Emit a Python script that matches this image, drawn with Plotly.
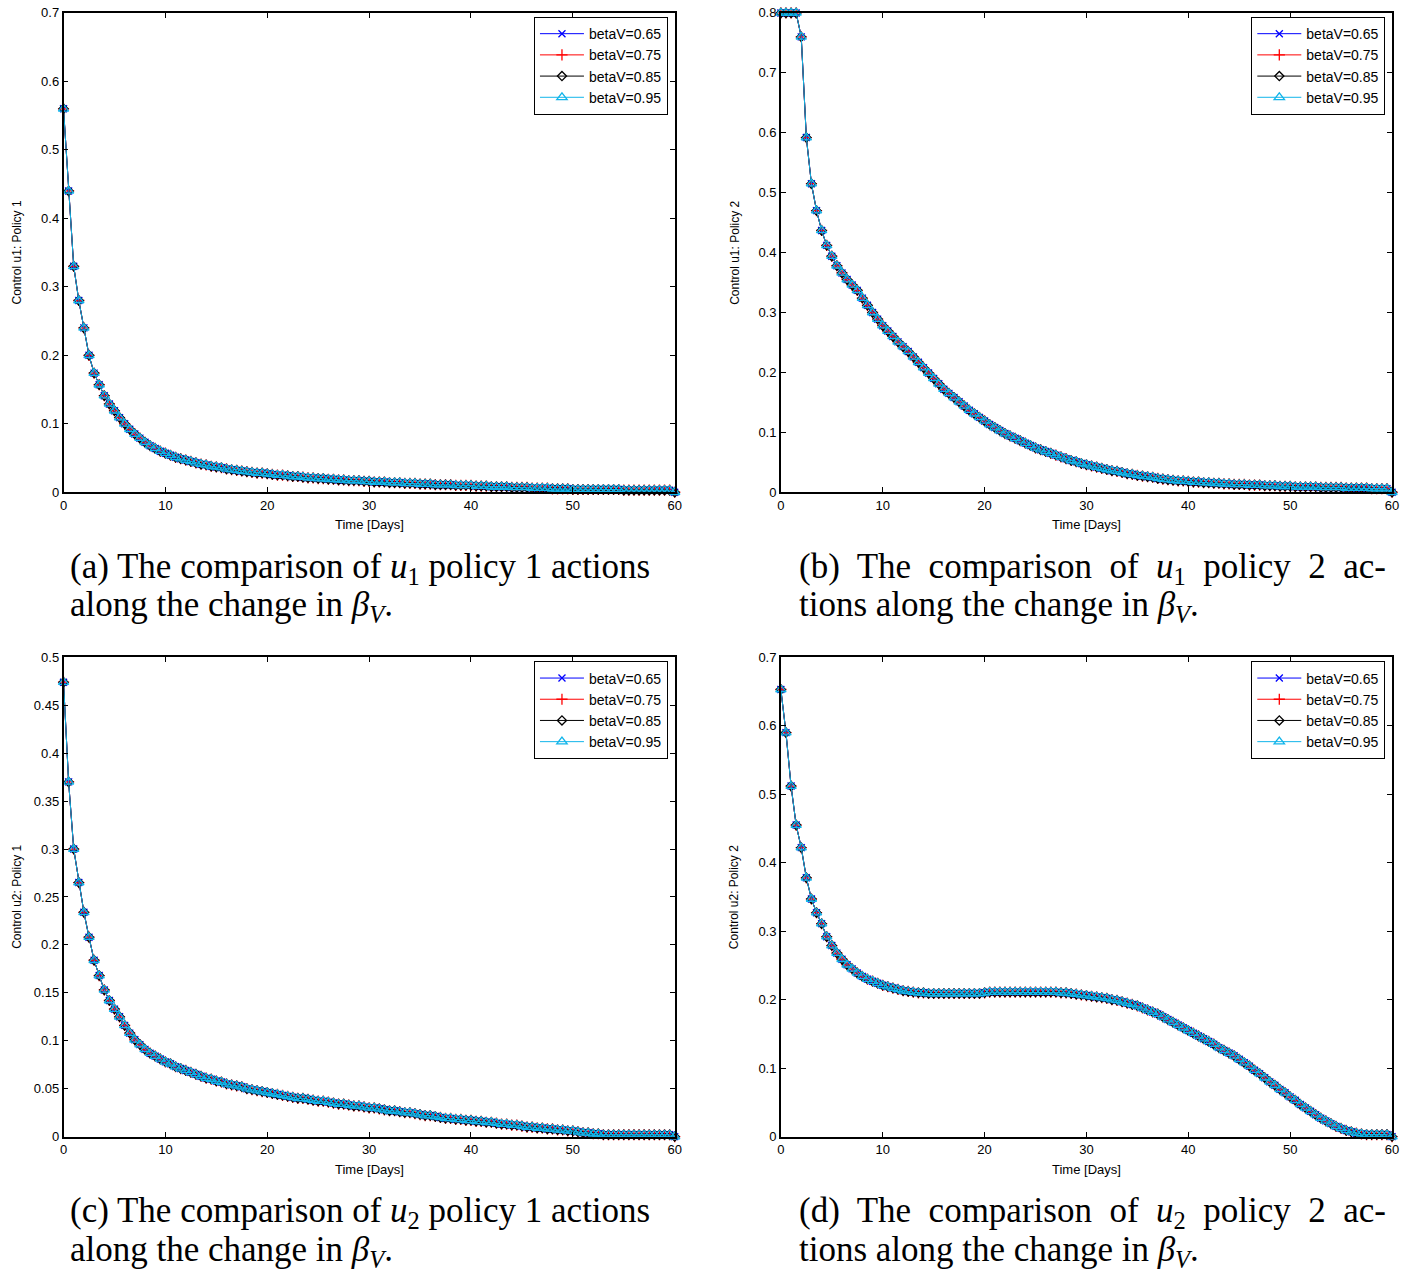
import plotly.graph_objects as go

W, H = 1406, 1281

# ---------------- data ----------------
time_days = [i * 0.5 for i in range(121)]  # 0, 0.5, ..., 60

beta_labels = ["betaV=0.65", "betaV=0.75", "betaV=0.85", "betaV=0.95"]

u1_policy1 = [
    0.560, 0.440, 0.330, 0.280, 0.240, 0.200, 0.174, 0.157, 0.141, 0.129,
    0.119, 0.109, 0.100, 0.092, 0.085, 0.079, 0.073, 0.068, 0.064, 0.060,
    0.057, 0.054, 0.051, 0.049, 0.047, 0.045, 0.043, 0.041, 0.040, 0.038,
    0.037, 0.036, 0.034, 0.033, 0.032, 0.031, 0.030, 0.029, 0.028, 0.028,
    0.027, 0.026, 0.025, 0.025, 0.024, 0.023, 0.023, 0.022, 0.021, 0.021,
    0.020, 0.020, 0.019, 0.019, 0.018, 0.018, 0.017, 0.017, 0.017, 0.016,
    0.016, 0.015, 0.015, 0.015, 0.014, 0.014, 0.014, 0.013, 0.013, 0.013,
    0.012, 0.012, 0.012, 0.011, 0.011, 0.011, 0.011, 0.010, 0.010, 0.010,
    0.010, 0.009, 0.009, 0.009, 0.008, 0.008, 0.008, 0.008, 0.007, 0.007,
    0.007, 0.007, 0.006, 0.006, 0.006, 0.006, 0.005, 0.005, 0.005, 0.005,
    0.004, 0.004, 0.004, 0.004, 0.004, 0.004, 0.004, 0.004, 0.004, 0.004,
    0.003, 0.003, 0.003, 0.003, 0.003, 0.003, 0.003, 0.003, 0.003, 0.003,
    0.000,
]

u1_policy2 = [
    0.800, 0.800, 0.800, 0.800, 0.760, 0.592, 0.515, 0.470, 0.437, 0.412,
    0.394, 0.378, 0.366, 0.355, 0.346, 0.337, 0.324, 0.312, 0.300, 0.289,
    0.278, 0.269, 0.260, 0.251, 0.243, 0.235, 0.226, 0.217, 0.208, 0.199,
    0.190, 0.181, 0.172, 0.165, 0.158, 0.151, 0.144, 0.137, 0.131, 0.125,
    0.119, 0.113, 0.108, 0.103, 0.098, 0.094, 0.090, 0.086, 0.082, 0.078,
    0.074, 0.071, 0.068, 0.065, 0.062, 0.059, 0.056, 0.053, 0.051, 0.048,
    0.046, 0.044, 0.042, 0.040, 0.038, 0.036, 0.035, 0.033, 0.031, 0.030,
    0.028, 0.027, 0.026, 0.025, 0.023, 0.022, 0.021, 0.020, 0.019, 0.019,
    0.018, 0.017, 0.017, 0.016, 0.016, 0.015, 0.015, 0.014, 0.014, 0.013,
    0.013, 0.013, 0.012, 0.012, 0.012, 0.011, 0.011, 0.011, 0.010, 0.010,
    0.010, 0.009, 0.009, 0.009, 0.009, 0.009, 0.008, 0.008, 0.008, 0.008,
    0.008, 0.007, 0.007, 0.007, 0.007, 0.007, 0.006, 0.006, 0.006, 0.006,
    0.000,
]

u2_policy1 = [
    0.474, 0.370, 0.300, 0.265, 0.234, 0.208, 0.184, 0.168, 0.153, 0.142,
    0.133, 0.125, 0.116, 0.108, 0.101, 0.096, 0.091, 0.087, 0.084, 0.081,
    0.078, 0.076, 0.073, 0.071, 0.069, 0.067, 0.065, 0.063, 0.061, 0.060,
    0.058, 0.057, 0.055, 0.054, 0.053, 0.052, 0.050, 0.049, 0.048, 0.047,
    0.046, 0.045, 0.044, 0.043, 0.042, 0.041, 0.040, 0.040, 0.039, 0.038,
    0.037, 0.037, 0.036, 0.035, 0.034, 0.034, 0.033, 0.032, 0.032, 0.031,
    0.030, 0.030, 0.029, 0.028, 0.027, 0.027, 0.026, 0.025, 0.025, 0.024,
    0.023, 0.022, 0.022, 0.021, 0.020, 0.019, 0.019, 0.018, 0.018, 0.017,
    0.017, 0.016, 0.016, 0.015, 0.015, 0.014, 0.013, 0.013, 0.012, 0.012,
    0.011, 0.010, 0.010, 0.009, 0.009, 0.008, 0.008, 0.007, 0.007, 0.006,
    0.006, 0.005, 0.004, 0.004, 0.003, 0.003, 0.002, 0.002, 0.002, 0.002,
    0.002, 0.002, 0.002, 0.002, 0.002, 0.002, 0.002, 0.002, 0.002, 0.002,
    0.000,
]

u2_policy2 = [
    0.653, 0.590, 0.512, 0.455, 0.422, 0.378, 0.347, 0.327, 0.311, 0.292,
    0.279, 0.268, 0.259, 0.251, 0.245, 0.239, 0.234, 0.230, 0.227, 0.224,
    0.221, 0.219, 0.217, 0.215, 0.213, 0.212, 0.211, 0.210, 0.210, 0.209,
    0.209, 0.209, 0.209, 0.209, 0.209, 0.209, 0.209, 0.209, 0.209, 0.209,
    0.210, 0.211, 0.211, 0.211, 0.211, 0.211, 0.211, 0.211, 0.211, 0.211,
    0.211, 0.211, 0.211, 0.211, 0.211, 0.210, 0.210, 0.209, 0.208, 0.207,
    0.206, 0.205, 0.204, 0.203, 0.202, 0.200, 0.199, 0.197, 0.195, 0.193,
    0.191, 0.188, 0.185, 0.182, 0.179, 0.175, 0.171, 0.167, 0.163, 0.159,
    0.155, 0.151, 0.147, 0.143, 0.139, 0.135, 0.130, 0.126, 0.122, 0.118,
    0.113, 0.108, 0.103, 0.097, 0.092, 0.086, 0.080, 0.075, 0.069, 0.064,
    0.058, 0.053, 0.047, 0.042, 0.037, 0.032, 0.027, 0.023, 0.019, 0.015,
    0.012, 0.009, 0.007, 0.005, 0.004, 0.003, 0.003, 0.003, 0.003, 0.003,
    0.000,
]

# ---------------- styling ----------------
series_style = [
    dict(color="#0000FF", symbol="x-thin-open", size=7),
    dict(color="#FF0000", symbol="cross-thin-open", size=8),
    dict(color="#000000", symbol="diamond-open", size=7),
    dict(color="#12B5EA", symbol="triangle-up-open", size=9),
]

SANS = "Liberation Sans, Arial, Helvetica, sans-serif"
TICK_FONT = dict(family=SANS, size=13, color="black")
LEG_FONT = dict(family=SANS, size=14, color="black")
CAP_FONT = dict(family="Liberation Serif, Times New Roman, serif", size=35, color="black")


def px(x):
    return x / W


def py(y):
    return 1 - y / H


panels = [
    dict(key="", data=u1_policy1, box=(60, 676, 6, 491), ymax=0.7, dtick=0.1,
         ylabel="Control u1: Policy 1", legend="legend",
         cap=("(a) The comparison of <i>u</i><sub>1</sub> policy 1 actions",
              "along the change in <i>β</i><sub><i>V</i></sub>.")),
    dict(key="2", data=u1_policy2, box=(783, 1399, 6, 491), ymax=0.8, dtick=0.1,
         ylabel="Control u1: Policy 2", legend="legend2",
         cap=("(b)  The  comparison  of  <i>u</i><sub>1</sub>  policy  2  ac-",
              "tions along the change in <i>β</i><sub><i>V</i></sub>.")),
    dict(key="3", data=u2_policy1, box=(60, 676, 658, 1143), ymax=0.5, dtick=0.05,
         ylabel="Control u2: Policy 1", legend="legend3",
         cap=("(c) The comparison of <i>u</i><sub>2</sub> policy 1 actions",
              "along the change in <i>β</i><sub><i>V</i></sub>.")),
    dict(key="4", data=u2_policy2, box=(783, 1399, 658, 1143), ymax=0.7, dtick=0.1,
         ylabel="Control u2: Policy 2", legend="legend4",
         cap=("(d)  The  comparison  of  <i>u</i><sub>2</sub>  policy  2  ac-",
              "tions along the change in <i>β</i><sub><i>V</i></sub>.")),
]

fig = go.Figure()
layout = dict(
    width=W, height=H,
    margin=dict(l=0, r=0, t=0, b=0),
    paper_bgcolor="white", plot_bgcolor="white",
    showlegend=True,
)
annotations = []

for p in panels:
    k = p["key"]
    x0, x1, y0, y1 = p["box"]
    xa = "xaxis" + k
    ya = "yaxis" + k
    for lab, st in zip(beta_labels, series_style):
        fig.add_trace(go.Scatter(
            x=time_days, y=p["data"], name=lab,
            mode="lines+markers",
            xaxis="x" + k, yaxis="y" + k,
            legend=p["legend"],
            cliponaxis=False,
            line=dict(color=st["color"], width=1),
            marker=dict(symbol=st["symbol"], size=st["size"], color=st["color"],
                        line=dict(color=st["color"], width=1.3)),
        ))
    axis_common = dict(
        showline=True, linecolor="black", linewidth=1.6, mirror="ticks",
        ticks="inside", ticklen=5, tickwidth=1.2, tickcolor="black",
        showgrid=False, zeroline=False, tickfont=TICK_FONT,
    )
    layout[xa] = dict(domain=[px(x0), px(x1)], range=[0, 60], dtick=10, tick0=0,
                      anchor="y" + k, **axis_common)
    layout[ya] = dict(domain=[py(y1), py(y0)], range=[0, p["ymax"]], dtick=p["dtick"], tick0=0,
                      anchor="x" + k, **axis_common)
    layout[p["legend"]] = dict(
        x=px(x1 - 7), y=py(y0 + 4), xanchor="right", yanchor="top",
        xref="paper", yref="paper",
        bgcolor="white", bordercolor="black", borderwidth=1.2,
        font=LEG_FONT, tracegroupgap=0, itemwidth=44,
    )
    # axis titles
    annotations.append(dict(
        text="Time [Days]", x=px((x0 + x1) / 2), y=py(y1 + 33), xref="paper", yref="paper",
        xanchor="center", yanchor="middle", showarrow=False, font=TICK_FONT))
    annotations.append(dict(
        text=p["ylabel"], x=px(x0 - 47), y=py((y0 + y1) / 2), xref="paper", yref="paper",
        xanchor="center", yanchor="middle", showarrow=False, textangle=-90,
        font=dict(family=SANS, size=12, color="black")))
    # captions
    cx = x0 + 5 if k in ("", "3") else x0 + 16
    annotations.append(dict(
        text=p["cap"][0], x=px(cx), y=py(y1 + 77), xref="paper", yref="paper",
        xanchor="left", yanchor="middle", showarrow=False, font=CAP_FONT))
    annotations.append(dict(
        text=p["cap"][1], x=px(cx), y=py(y1 + 116), xref="paper", yref="paper",
        xanchor="left", yanchor="middle", showarrow=False, font=CAP_FONT))

layout["annotations"] = annotations
fig.update_layout(**layout)
fig.write_html(
    "out.html",
    config={"displayModeBar": False},
    post_script="document.body.style.margin='0';document.body.style.overflow='hidden';",
)
